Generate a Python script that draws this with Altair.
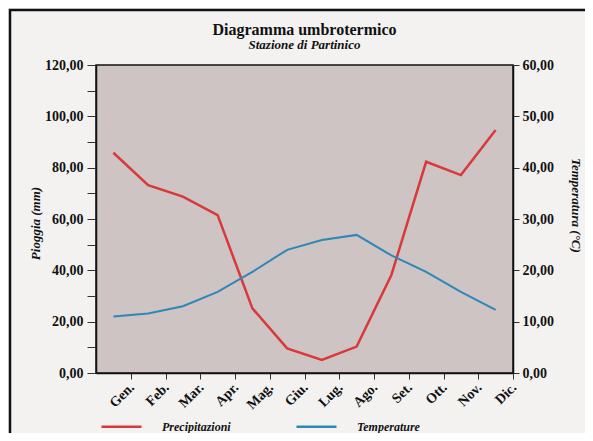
import altair as alt
import pandas as pd

mesi = ["Gen.", "Feb.", "Mar.", "Apr.", "Mag.", "Giu.", "Lug.", "Ago.", "Set.", "Ott.", "Nov.", "Dic."]
pioggia = [85.8, 73.2, 68.7, 61.5, 25.2, 9.6, 5.1, 10.3, 38.2, 82.3, 77.1, 94.7]
temperatura = [11.0, 11.6, 13.0, 15.8, 19.7, 24.0, 25.9, 26.9, 22.9, 19.7, 15.8, 12.3]
serie = ["Precipitazioni", "Temperature"]
colori = ["#d9393a", "#2f87b8"]

df = pd.DataFrame({"mese": mesi, "pioggia": pioggia, "temperatura": temperatura})

W, H = 417, 308
FONT = "Liberation Serif"
step = W / 12

x_enc = alt.X(
    "mese:N",
    sort=mesi,
    scale=alt.Scale(type="point", padding=0.5),
    axis=alt.Axis(
        title=None,
        labelAngle=-45,
        labelAlign="right",
        labelBaseline="top",
        tickOffset=step / 2,
        labelOffset=-4,
        tickSize=6,
        labelPadding=1,
        labelFontSize=14,
        domainWidth=1.5,
        domainColor="#111",
        tickColor="#333",
    ),
)

color_enc = alt.Color(
    "serie:N",
    scale=alt.Scale(domain=serie, range=colori),
    legend=alt.Legend(
        title=None,
        orient="none",
        legendX=4,
        legendY=340,
        direction="horizontal",
        symbolType="stroke",
        symbolSize=1600,
        symbolStrokeWidth=2.5,
        labelFont=FONT,
        labelFontSize=12,
        labelFontWeight="bold",
        labelFontStyle="italic",
        labelOffset=19,
        columnPadding=60,
        labelColor="#111",
    ),
)

base = alt.Chart(df)

rain = base.transform_calculate(serie="'Precipitazioni'").mark_line(strokeWidth=2.5).encode(
    x=x_enc,
    y=alt.Y(
        "pioggia:Q",
        scale=alt.Scale(domain=[0, 120], nice=False),
        axis=alt.Axis(
            title="Pioggia (mm)",
            values=list(range(0, 130, 10)),
            labelExpr="datum.value % 20 == 0 ? replace(format(datum.value, '.2f'), '.', ',') : ''",
            grid=False,
            tickSize=9,
            labelPadding=4,
            titleX=-61,
            titleY=158,
            titleAngle=-90,
            titleAlign="center",
            titleBaseline="middle",
            domainWidth=1.5,
            domainColor="#111",
        ),
    ),
    color=color_enc,
)

temp = base.transform_calculate(serie="'Temperature'").mark_line(strokeWidth=2).encode(
    x=x_enc,
    y=alt.Y(
        "temperatura:Q",
        scale=alt.Scale(domain=[0, 60], nice=False),
        axis=alt.Axis(
            title="Temperatura (°C)",
            orient="right",
            values=list(range(0, 70, 10)),
            labelExpr="replace(format(datum.value, '.2f'), '.', ',')",
            grid=False,
            tickSize=6,
            labelPadding=3,
            titleX=62,
            titleY=140,
            titleAngle=90,
            titleAlign="center",
            titleBaseline="middle",
            domainWidth=1.5,
            domainColor="#111",
        ),
    ),
    color=color_enc,
)

frame = alt.Chart(pd.DataFrame({"a": [1]})).mark_rect(
    fillOpacity=0, stroke="#111", strokeWidth=2.5
).encode(
    x=alt.value(-86), x2=alt.value(492), y=alt.value(-55), y2=alt.value(372)
)

chart = (
    alt.layer(rain, temp, frame)
    .resolve_scale(y="independent")
    .properties(
        width=W,
        height=H,
        autosize=alt.AutoSizeParams(type="none"),
        padding={"left": 88, "top": 57, "right": 72, "bottom": 60},
        title=alt.TitleParams(
            "Diagramma umbrotermico",
            subtitle="Stazione di Partinico",
            font=FONT,
            fontSize=16,
            fontWeight="bold",
            color="#111",
            subtitleFont=FONT,
            subtitleFontSize=13,
            subtitleFontWeight="bold",
            subtitleFontStyle="italic",
            subtitleColor="#111",
            subtitlePadding=1,
            anchor="middle",
            frame="group",
            offset=-43,
        ),
    )
    .configure(background="#f3f2f1")
    .configure_view(fill="#cdc4c3", stroke="#111", strokeWidth=1.5)
    .configure_axis(
        labelFont=FONT,
        labelFontSize=14,
        labelFontWeight="bold",
        labelColor="#111",
        titleFont=FONT,
        titleFontSize=13,
        titleFontWeight="bold",
        titleFontStyle="italic",
        titleColor="#111",
        tickColor="#333",
    )
)

chart.save("out.html", embed_options={"renderer": "svg", "actions": False})
